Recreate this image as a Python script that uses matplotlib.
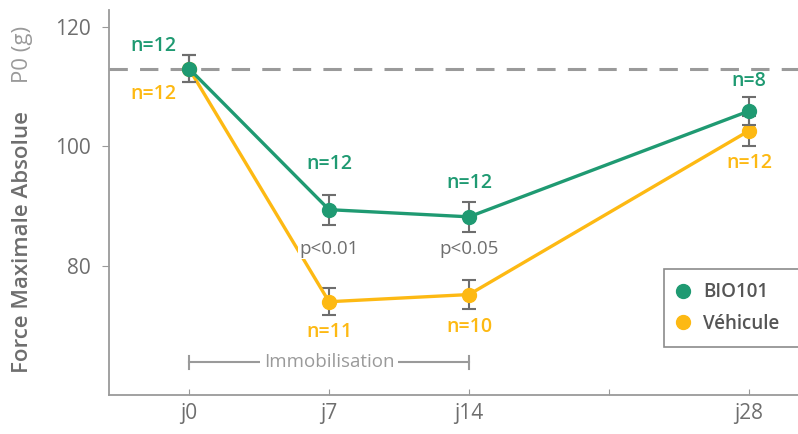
import matplotlib
matplotlib.use("Agg")
import matplotlib.pyplot as plt

plt.rcParams['font.family'] = ['Open Sans', 'DejaVu Sans']

# mesures de force (moyenne +/- erreur) par jour
jours = [0, 7, 14, 28]
jour_labels = ["j0", "j7", "j14", "", "j28"]
jour_ticks = [0, 7, 14, 21, 28]

bio_moy = [113.0, 89.4, 88.2, 105.9]
bio_err = [2.3, 2.5, 2.5, 2.3]
bio_n = [12, 12, 12, 8]

veh_moy = [113.0, 74.0, 75.2, 102.6]
veh_err = [2.3, 2.3, 2.5, 2.5]
veh_n = [12, 11, 10, 12]

p_vals = ["p<0.01", "p<0.05"]
p_jours = [7, 14]

ref_p0 = 113.0

# décalage des étiquettes n= (jours, unités de force)
bio_dx = [-1.8, 0, 0, 0]
bio_dy = [3.7, 7.7, 5.7, 5.0]
veh_dx = [-1.8, 0, 0, 0]
veh_dy = [-4.3, -5.0, -5.5, -5.4]

VERT = "#1f9a72"
JAUNE = "#fdb913"
GRIS = "#6e6e6e"
GRIS_CLAIR = "#9a9a9a"

fig = plt.figure(figsize=(7.98, 4.34), dpi=100)
ax = fig.add_axes([0.1366, 0.0899, 0.8634, 0.8871])

ax.axhline(ref_p0, color=GRIS_CLAIR, lw=2.2, dashes=(6, 4), zorder=1)

ax.errorbar(jours, veh_moy, yerr=veh_err, fmt='none', ecolor=GRIS, elinewidth=1.5, capsize=5, capthick=1.5, zorder=2)
l_veh, = ax.plot(jours, veh_moy, '-o', color=JAUNE, lw=2.4, ms=10, zorder=3, label="Véhicule")
ax.errorbar(jours, bio_moy, yerr=bio_err, fmt='none', ecolor=GRIS, elinewidth=1.5, capsize=5, capthick=1.5, zorder=4)
l_bio, = ax.plot(jours, bio_moy, '-o', color=VERT, lw=2.4, ms=10, zorder=5, label="BIO101")

# effectifs au-dessus (BIO101) et en dessous (Véhicule)
for j, m, n, dx, dy in zip(jours, bio_moy, bio_n, bio_dx, bio_dy):
    ax.text(j + dx, m + dy, f"n={n}", color=VERT, fontsize=14, fontweight='semibold', ha='center', va='center')
for j, m, n, dx, dy in zip(jours, veh_moy, veh_n, veh_dx, veh_dy):
    ax.text(j + dx, m + dy, f"n={n}", color=JAUNE, fontsize=14, fontweight='semibold', ha='center', va='center')

for j, p in zip(p_jours, p_vals):
    ax.text(j, 82.8, p, color=GRIS, fontsize=13.5, ha='center', va='center',
            bbox=dict(facecolor='white', edgecolor='none', pad=1))

# période d'immobilisation
y_imm = 63.9
ax.plot([0, 14], [y_imm, y_imm], color=GRIS_CLAIR, lw=1.5, zorder=1)
ax.plot([0, 0], [y_imm - 1.1, y_imm + 1.1], color=GRIS_CLAIR, lw=1.5)
ax.plot([14, 14], [y_imm - 1.1, y_imm + 1.1], color=GRIS_CLAIR, lw=1.5)
ax.text(7, y_imm, "Immobilisation", color=GRIS_CLAIR, fontsize=13.5, ha='center', va='center',
        bbox=dict(facecolor='white', edgecolor='none', pad=3))

ax.set_xlim(-4, 30.45)
ax.set_ylim(58.4, 122.8)
ax.set_xticks(jour_ticks)
ax.set_xticklabels(jour_labels)
ax.set_yticks([80, 100, 120])

for s in ["top", "right"]:
    ax.spines[s].set_visible(False)
for s in ["left", "bottom"]:
    ax.spines[s].set_color(GRIS_CLAIR)
    ax.spines[s].set_linewidth(1.3)
ax.tick_params(axis='x', direction='in', length=4, color=GRIS_CLAIR, labelcolor=GRIS, labelsize=15, pad=6)
ax.tick_params(axis='y', direction='out', length=5, color=GRIS_CLAIR, labelcolor=GRIS, labelsize=15, pad=8)

leg = ax.legend([l_bio, l_veh], ["BIO101", "Véhicule"], loc='lower left',
                bbox_to_anchor=(0.8055, 0.125, 0.25, 0.21), mode='expand',
                frameon=True, fancybox=False, fontsize=13.5, handlelength=0.6, handletextpad=0.8,
                borderpad=0.7, labelspacing=0.6, borderaxespad=0)
for h in leg.legend_handles:
    h.set_linestyle('none')
leg.get_frame().set_edgecolor(GRIS)
leg.get_frame().set_linewidth(1.2)
for t in leg.get_texts():
    t.set_color("#555555")
    t.set_fontweight('semibold')

fig.text(0.028, 1 - 373 / 434, "Force Maximale Absolue", rotation=90, ha='center', va='bottom',
         color=GRIS, fontsize=16, fontweight='semibold')
fig.text(0.028, 1 - 26 / 434, "P0 (g)", rotation=90, ha='center', va='top',
         color=GRIS_CLAIR, fontsize=16)

fig.savefig("out.png", dpi=100)
